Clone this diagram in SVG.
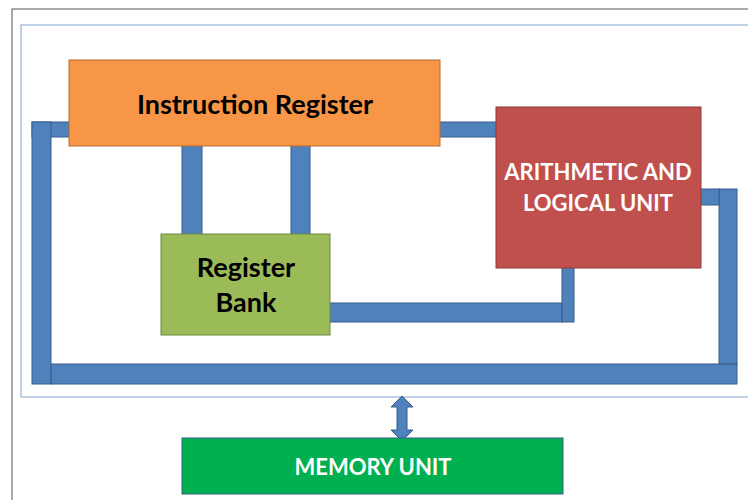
<svg xmlns="http://www.w3.org/2000/svg" width="748" height="500" viewBox="0 0 748 500">
<style>
.bus{fill:#4F81BD;stroke:#385D8A;stroke-width:1}
.lbl{font-family:Lato,"Open Sans","Liberation Sans",sans-serif;font-weight:bold;text-anchor:middle}
</style>
<rect x="0" y="0" width="748" height="500" fill="#fff"/>
<rect x="12" y="9" width="745" height="500" fill="none" stroke="#555" stroke-width="1"/>
<rect x="21" y="25" width="735" height="372" fill="none" stroke="#95B3D7" stroke-width="1.2"/>
<g id="connectors">
<rect class="bus" x="32" y="122" width="40" height="15"/>
<rect class="bus" x="32" y="122" width="19" height="262"/>
<rect class="bus" x="51" y="364" width="686" height="20"/>
<rect class="bus" x="719" y="189" width="18" height="175"/>
<rect class="bus" x="700" y="189" width="19" height="16"/>
<rect class="bus" x="438" y="122" width="60" height="15"/>
<rect class="bus" x="182" y="144" width="20" height="92"/>
<rect class="bus" x="291" y="144" width="19" height="92"/>
<rect class="bus" x="328" y="303" width="234" height="19"/>
<rect class="bus" x="562" y="266" width="12" height="56"/>
<path class="bus" d="M402,396 L413,407 L407,407 L407,430 L413,430 L402,441 L391,430 L397,430 L397,407 L391,407 Z"/>
</g>
<g id="instruction-register">
<rect x="69" y="60" width="371" height="86" fill="#F79646" stroke="#B66D31" stroke-width="1"/>
<text class="lbl" x="255" y="114" font-size="27" fill="#000">Instruction Register</text>
</g>
<g id="register-bank">
<rect x="161" y="234" width="169" height="101" fill="#9BBB59" stroke="#71893F" stroke-width="1"/>
<text class="lbl" x="246" y="277" font-size="27" fill="#000">Register</text>
<text class="lbl" x="246" y="312" font-size="27" fill="#000">Bank</text>
</g>
<g id="alu">
<rect x="496" y="107" width="205" height="161" fill="#C0504D" stroke="#8C3836" stroke-width="1"/>
<text class="lbl" x="598" y="180" font-size="22" fill="#fff">ARITHMETIC AND</text>
<text class="lbl" x="598" y="211" font-size="22" fill="#fff">LOGICAL UNIT</text>
</g>
<g id="memory-unit">
<rect x="182" y="438" width="381" height="56" fill="#00B050" stroke="#385D8A" stroke-width="1"/>
<text class="lbl" x="373" y="475" font-size="22" fill="#fff">MEMORY UNIT</text>
</g>
</svg>
